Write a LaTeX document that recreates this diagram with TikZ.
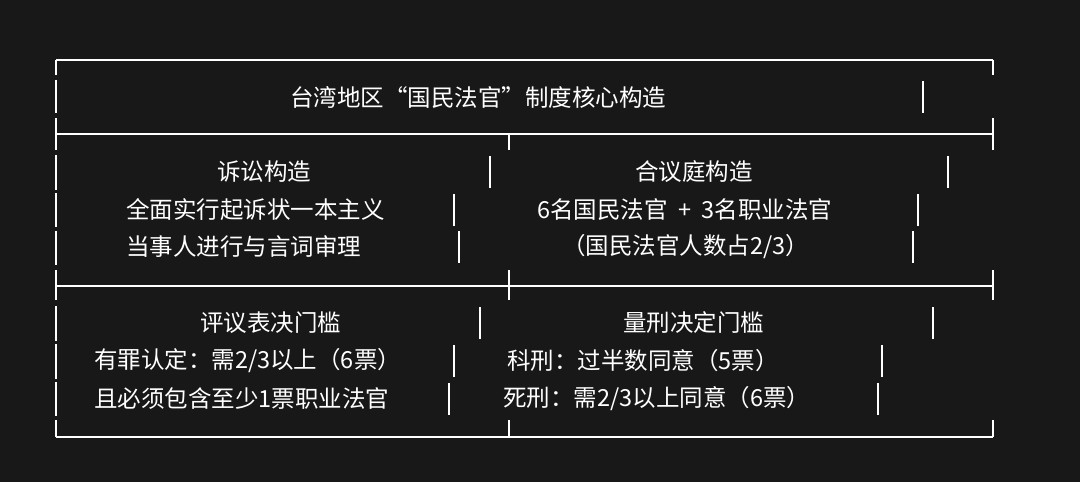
\documentclass[tikz,border=0pt]{standalone}
\usepackage{fontspec}
\newfontfamily\cjk{Noto Sans CJK SC}
\begin{document}
\begin{tikzpicture}[x=1pt,y=-1pt,
  ln/.style={white,line width=1.8pt},
  tx/.style={anchor=west,text=white,inner sep=0pt,font=\cjk\fontsize{23.5}{24}\selectfont}]
\fill[fill={rgb,255:red,24;green,24;blue,24}] (0,0) rectangle (1080,482);
\useasboundingbox (0,0) rectangle (1080,482);
% horizontal borders
\foreach \y in {60,134,286,437} \draw[ln] (56,\y) -- (993,\y);
% left edge, segmented per row
\foreach \a/\b in {60/75,80/113,118/150,155/190,193/227,231/265,270/300,306/341,344/379,382/416,420/437}
  \draw[ln] (56,\a) -- (56,\b);
% right edge
\foreach \a/\b in {60/75,118/150,270/300,420/437} \draw[ln] (993,\a) -- (993,\b);
% middle divider ticks
\foreach \a/\b in {134/150,270/300,420/437} \draw[ln] (509,\a) -- (509,\b);
% row bars
\foreach \x/\y in {923/97,490/172,948/172,454/210,918/210,459/247,913/247,
  480/323,933/323,454/361,882/361,449/399,878/399}
  \draw[ln] (\x,\y-16) -- (\x,\y+16);
% texts
\node[tx] (t0) at (290,97) {台湾地区“国民法官”制度核心构造};
\node[tx] (a0) at (217,172) {诉讼构造};
\node[tx] (a1) at (126,210) {全面实行起诉状一本主义};
\node[tx] (a2) at (126,247) {当事人进行与言词审理};
\node[tx] (b0) at (635,172) {合议庭构造};
\node[tx] (b1) at (537,210) {6名国民法官 \ + \ 3名职业法官};
\node[tx] (b2) at (562,247) {（国民法官人数占2/3）};
\node[tx] (c0) at (200,323) {评议表决门槛};
\node[tx] (c1) at (94,361) {有罪认定：需2/3以上（6票）};
\node[tx] (c2) at (94,399) {且必须包含至少1票职业法官};
\node[tx] (d0) at (623,323) {量刑决定门槛};
\node[tx] (d1) at (507,361) {科刑：过半数同意（5票）};
\node[tx] (d2) at (503,399) {死刑：需2/3以上同意（6票）};
\end{tikzpicture}
\end{document}
